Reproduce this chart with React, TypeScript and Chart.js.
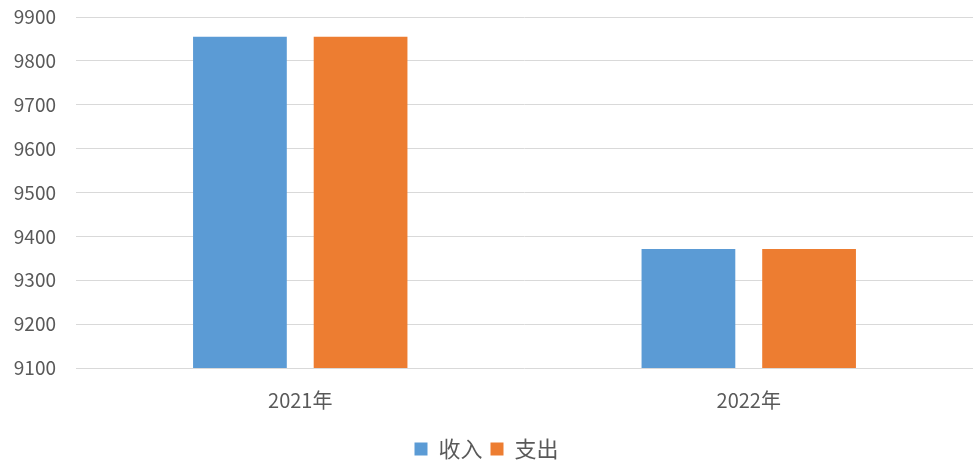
import React, { useEffect, useRef } from "react";
import { Chart, registerables } from "chart.js";

Chart.register(...registerables);

const categories = ["2021年", "2022年"];
const incomeValues = [9855, 9371];
const expenseValues = [9855, 9371];
const seriesNames = ["收入", "支出"];
const yMin = 9100;
const yMax = 9900;
const yStep = 100;

const FONT = '"Noto Sans CJK SC", "Microsoft YaHei", sans-serif';

export default function App() {
  const ref = useRef<HTMLCanvasElement | null>(null);
  useEffect(() => {
    if (!ref.current) return;
    const chart = new Chart(ref.current, {
      type: "bar",
      data: {
        labels: categories,
        datasets: [
          { label: seriesNames[0], data: incomeValues, backgroundColor: "#5B9BD5" },
          { label: seriesNames[1], data: expenseValues, backgroundColor: "#ED7D31" },
        ],
      },
      options: {
        animation: false,
        responsive: true,
        maintainAspectRatio: false,
        layout: { padding: { top: 17, right: 1, bottom: 0, left: 0 } },
        datasets: {
          bar: { categoryPercentage: 0.538, barPercentage: 0.777 },
        },
        plugins: {
          legend: {
            position: "bottom",
            labels: {
              boxWidth: 13,
              boxHeight: 13,
              padding: 8,
              color: "#595959",
              font: { family: FONT, size: 22 },
            },
          },
          tooltip: { enabled: false },
        },
        scales: {
          x: {
            grid: { display: false, drawTicks: false },
            border: { display: false },
            ticks: { color: "#595959", font: { family: FONT, size: 20 }, padding: 20 },
            afterFit: (s: any) => { s.height = 62; },
          },
          y: {
            min: yMin,
            max: yMax,
            grid: { color: "#d9d9d9", drawTicks: false },
            border: { display: false },
            ticks: {
              stepSize: yStep,
              color: "#595959",
              font: { family: FONT, size: 19 },
              padding: 20,
              callback: (v: any) => String(v),
            },
            afterFit: (s: any) => {
              s.width = 76;
              s.paddingTop = 0;
              s.paddingBottom = 0;
            },
          },
        },
      },
    });
    return () => chart.destroy();
  }, []);
  return (
    <div style={{ position: "fixed", left: 0, top: 0, width: 974, height: 470, background: "#fff" }}>
      <canvas ref={ref} />
    </div>
  );
}
